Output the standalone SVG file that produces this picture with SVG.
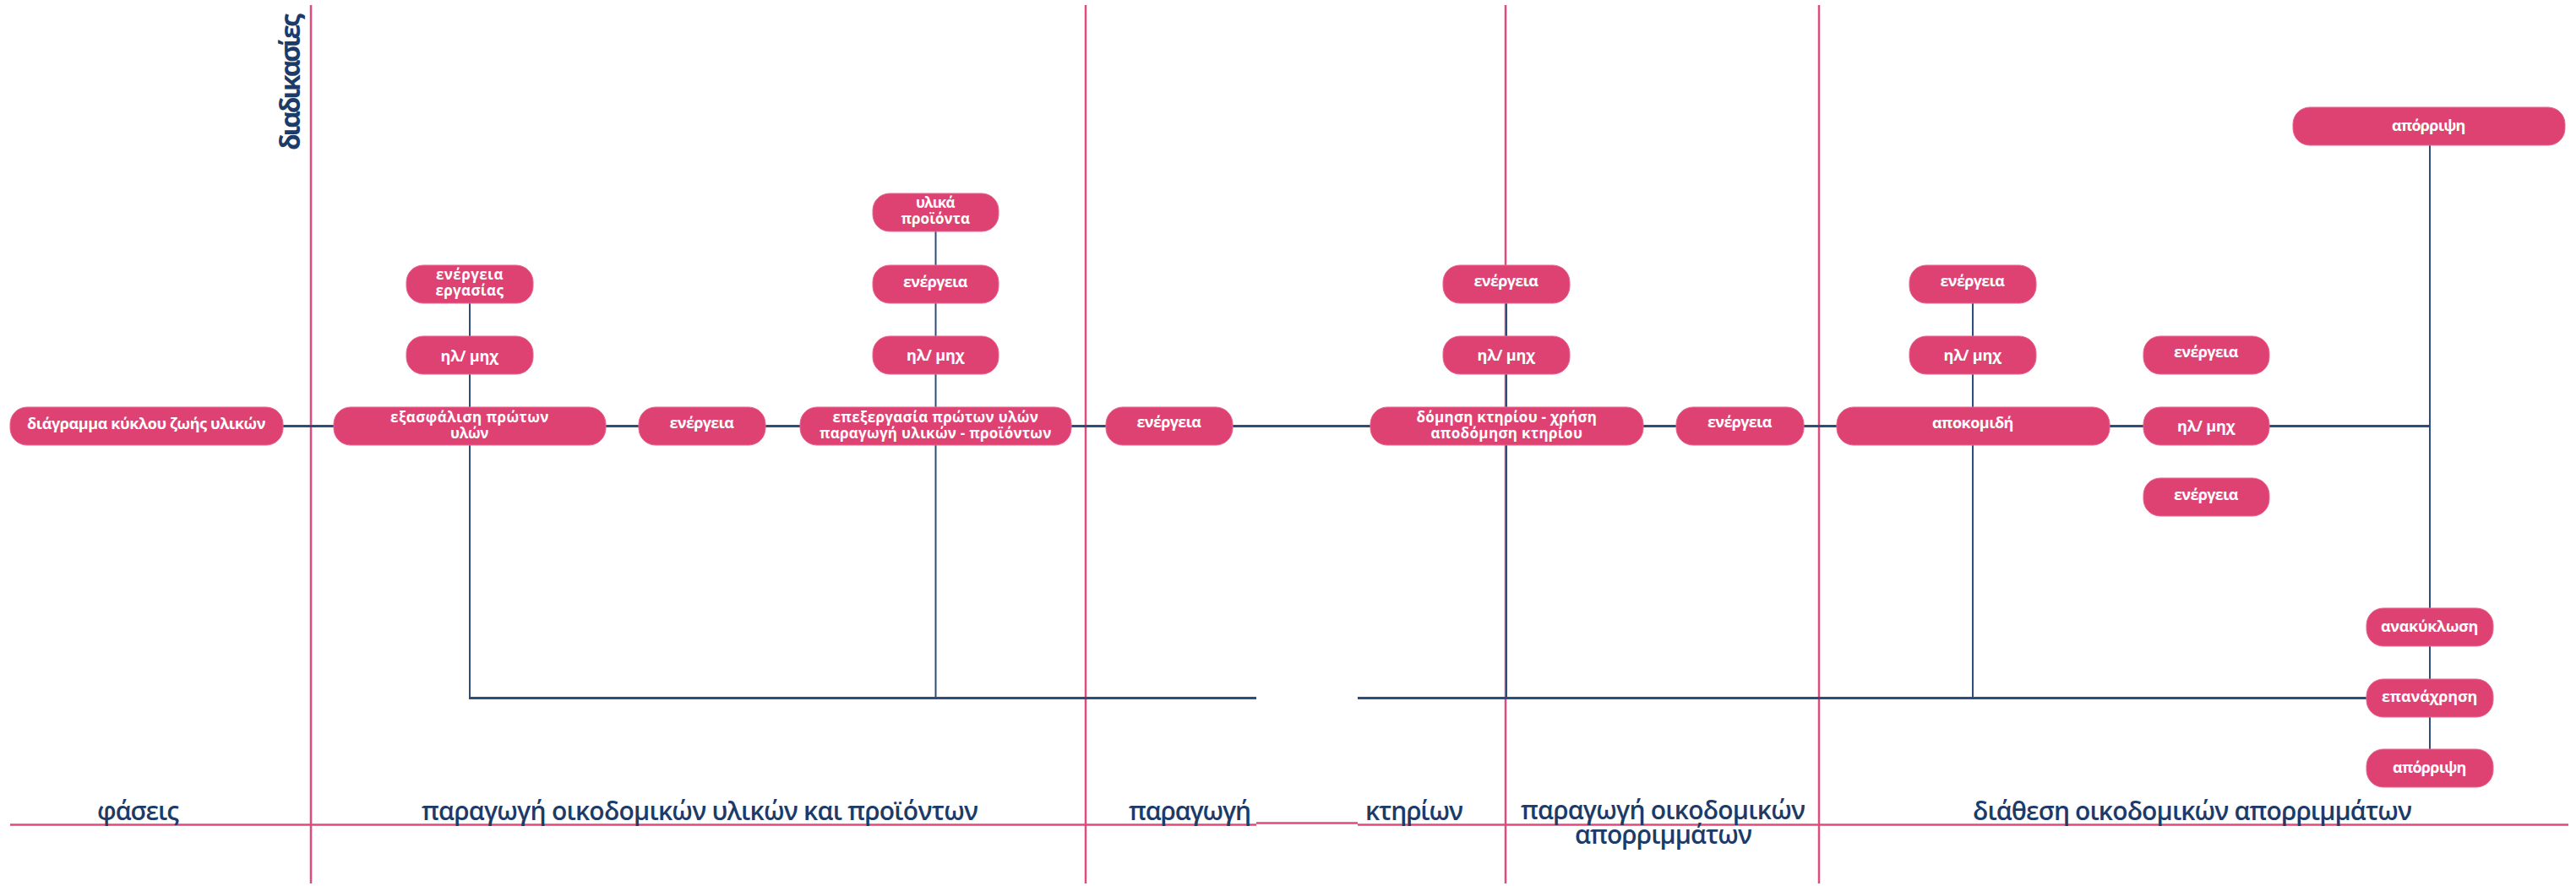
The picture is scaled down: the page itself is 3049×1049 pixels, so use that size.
<svg xmlns="http://www.w3.org/2000/svg" width="3049" height="1049" viewBox="0 0 3049 1049">
<style>
.bg{fill:#ffffff}
.grid{stroke:#e04a7c;stroke-width:2.5;fill:none}
.con{stroke:#2c4d7d;stroke-width:2;fill:none}
.conm{stroke:#2c4d7d;stroke-width:3;fill:none}
.node rect{fill:#de4273;stroke:#e8668f;stroke-width:1}
.node text{font-family:"Open Sans","Noto Sans","DejaVu Sans",sans-serif;font-weight:700;font-size:18px;fill:#ffffff;text-anchor:middle;letter-spacing:0.6px}
.node text.two{font-size:17px}
.lbl{font-family:"Open Sans","Noto Sans","DejaVu Sans",sans-serif;font-weight:600;font-size:30px;fill:#1d3b69;text-anchor:middle}
.ttl{font-family:"Open Sans","Noto Sans","DejaVu Sans",sans-serif;font-weight:700;font-size:32px;fill:#1d3b69;text-anchor:middle}
</style>
<rect class="bg" x="0" y="0" width="3049" height="1049"/>
<g id="grid">
<line class="grid" x1="368" y1="6" x2="368" y2="1046"/>
<line class="grid" x1="1285" y1="6" x2="1285" y2="1046"/>
<line class="grid" x1="1782" y1="6" x2="1782" y2="1046"/>
<line class="grid" x1="2153" y1="6" x2="2153" y2="1046"/>
<line class="grid" x1="12" y1="976.5" x2="1487" y2="976.5"/>
<line class="grid" x1="1487" y1="974.5" x2="1607" y2="974.5"/>
<line class="grid" x1="1607" y1="976.5" x2="3040" y2="976.5"/>
</g>
<g id="labels">
<text class="ttl" transform="translate(355,97) rotate(-90)" textLength="162">διαδικασίες</text>
<text class="lbl" x="163.5" y="971" textLength="97">φάσεις</text>
<text class="lbl" x="828.5" y="971" textLength="659">παραγωγή οικοδομικών υλικών και προϊόντων</text>
<text class="lbl" x="1408.5" y="971" textLength="145">παραγωγή</text>
<text class="lbl" x="1674" y="971" textLength="116">κτηρίων</text>
<text class="lbl" x="1968.5" y="970" textLength="337">παραγωγή οικοδομικών</text>
<text class="lbl" x="1969" y="999" textLength="210">απορριμμάτων</text>
<text class="lbl" x="2595" y="971" textLength="520">διάθεση οικοδομικών απορριμμάτων</text>
</g>
<g id="connectors">
<line class="conm" x1="335" y1="504.5" x2="395" y2="504.5"/>
<line class="conm" x1="717" y1="504.5" x2="756" y2="504.5"/>
<line class="conm" x1="906" y1="504.5" x2="947" y2="504.5"/>
<line class="conm" x1="1268" y1="504.5" x2="1309" y2="504.5"/>
<line class="conm" x1="1459" y1="504.5" x2="1622" y2="504.5"/>
<line class="conm" x1="1945" y1="504.5" x2="1984" y2="504.5"/>
<line class="conm" x1="2135" y1="504.5" x2="2174" y2="504.5"/>
<line class="conm" x1="2497" y1="504.5" x2="2537" y2="504.5"/>
<line class="conm" x1="2686" y1="504.5" x2="2876" y2="504.5"/>
<line class="con" x1="556" y1="359" x2="556" y2="398"/>
<line class="con" x1="556" y1="443" x2="556" y2="482"/>
<line class="con" x1="556" y1="527" x2="556" y2="826"/>
<line class="con" x1="1107.5" y1="274" x2="1107.5" y2="314"/>
<line class="con" x1="1107.5" y1="359" x2="1107.5" y2="398"/>
<line class="con" x1="1107.5" y1="443" x2="1107.5" y2="482"/>
<line class="con" x1="1107.5" y1="527" x2="1107.5" y2="826"/>
<line class="con" x1="1783" y1="359" x2="1783" y2="398"/>
<line class="con" x1="1783" y1="443" x2="1783" y2="482"/>
<line class="con" x1="1783" y1="527" x2="1783" y2="826"/>
<line class="con" x1="2335" y1="359" x2="2335" y2="398"/>
<line class="con" x1="2335" y1="443" x2="2335" y2="482"/>
<line class="con" x1="2335" y1="527" x2="2335" y2="826"/>
<line class="con" x1="2876" y1="172" x2="2876" y2="720"/>
<line class="con" x1="2876" y1="765" x2="2876" y2="804"/>
<line class="con" x1="2876" y1="849" x2="2876" y2="887"/>
<line class="conm" x1="555" y1="826.5" x2="1487" y2="826.5"/>
<line class="conm" x1="1607" y1="826.5" x2="2801" y2="826.5"/>
</g>
<g id="n-lca" class="node"><rect x="12" y="482" width="323" height="45" rx="20"/><text x="173.5" y="508" textLength="283">διάγραμμα κύκλου ζωής υλικών</text></g>
<g id="n-exasfalisi" class="node"><rect x="395" y="482" width="322" height="45" rx="20"/><text class="two" x="556" y="500" textLength="188">εξασφάλιση πρώτων</text><text class="two" x="556" y="519" textLength="46">υλών</text></g>
<g id="n-energeia-ergasias" class="node"><rect x="481" y="314" width="150" height="45" rx="20"/><text class="two" x="556" y="331" textLength="80">ενέργεια</text><text class="two" x="556" y="350" textLength="81">εργασίας</text></g>
<g id="n-ilmix-1" class="node"><rect x="481" y="398" width="150" height="45" rx="20"/><text x="556" y="428" textLength="69">ηλ/ μηχ</text></g>
<g id="n-energeia-1" class="node"><rect x="756" y="482" width="150" height="45" rx="20"/><text x="831" y="507" textLength="77">ενέργεια</text></g>
<g id="n-epexergasia" class="node"><rect x="947" y="482" width="321" height="45" rx="20"/><text class="two" x="1107.5" y="500" textLength="244">επεξεργασία πρώτων υλών</text><text class="two" x="1107.5" y="519" textLength="275">παραγωγή υλικών - προϊόντων</text></g>
<g id="n-ylika" class="node"><rect x="1033" y="229" width="149" height="45" rx="20"/><text class="two" x="1107.5" y="246" textLength="47">υλικά</text><text class="two" x="1107.5" y="265" textLength="82">προϊόντα</text></g>
<g id="n-energeia-2" class="node"><rect x="1033" y="314" width="149" height="45" rx="20"/><text x="1107.5" y="340" textLength="77">ενέργεια</text></g>
<g id="n-ilmix-2" class="node"><rect x="1033" y="398" width="149" height="45" rx="20"/><text x="1107.5" y="427" textLength="69">ηλ/ μηχ</text></g>
<g id="n-energeia-3" class="node"><rect x="1309" y="482" width="150" height="45" rx="20"/><text x="1384" y="506" textLength="77">ενέργεια</text></g>
<g id="n-domisi" class="node"><rect x="1622" y="482" width="323" height="45" rx="20"/><text class="two" x="1783.5" y="500" textLength="214">δόμηση κτηρίου - χρήση</text><text class="two" x="1783.5" y="519" textLength="180">αποδόμηση κτηρίου</text></g>
<g id="n-energeia-4" class="node"><rect x="1708" y="314" width="150" height="45" rx="20"/><text x="1783" y="339" textLength="77">ενέργεια</text></g>
<g id="n-ilmix-3" class="node"><rect x="1708" y="398" width="150" height="45" rx="20"/><text x="1783" y="427" textLength="69">ηλ/ μηχ</text></g>
<g id="n-energeia-5" class="node"><rect x="1984" y="482" width="151" height="45" rx="20"/><text x="2059.5" y="506" textLength="77">ενέργεια</text></g>
<g id="n-apokomidi" class="node"><rect x="2174" y="482" width="323" height="45" rx="20"/><text x="2335.5" y="507" textLength="97">αποκομιδή</text></g>
<g id="n-energeia-6" class="node"><rect x="2260" y="314" width="150" height="45" rx="20"/><text x="2335" y="339" textLength="77">ενέργεια</text></g>
<g id="n-ilmix-4" class="node"><rect x="2260" y="398" width="150" height="45" rx="20"/><text x="2335" y="427" textLength="69">ηλ/ μηχ</text></g>
<g id="n-ilmix-5" class="node"><rect x="2537" y="482" width="149" height="45" rx="20"/><text x="2611.5" y="511" textLength="69">ηλ/ μηχ</text></g>
<g id="n-energeia-7" class="node"><rect x="2537" y="398" width="149" height="45" rx="20"/><text x="2611.5" y="423" textLength="77">ενέργεια</text></g>
<g id="n-energeia-8" class="node"><rect x="2537" y="566" width="149" height="45" rx="20"/><text x="2611.5" y="592" textLength="77">ενέργεια</text></g>
<g id="n-aporripsi-top" class="node"><rect x="2714" y="127" width="322" height="45" rx="20"/><text x="2875" y="155" textLength="88">απόρριψη</text></g>
<g id="n-anakyklosi" class="node"><rect x="2801" y="720" width="150" height="45" rx="20"/><text x="2876" y="748" textLength="116">ανακύκλωση</text></g>
<g id="n-epanachrisi" class="node"><rect x="2801" y="804" width="150" height="45" rx="20"/><text x="2876" y="831" textLength="114">επανάχρηση</text></g>
<g id="n-aporripsi" class="node"><rect x="2801" y="887" width="150" height="45" rx="20"/><text x="2876" y="915" textLength="88">απόρριψη</text></g>
</svg>
